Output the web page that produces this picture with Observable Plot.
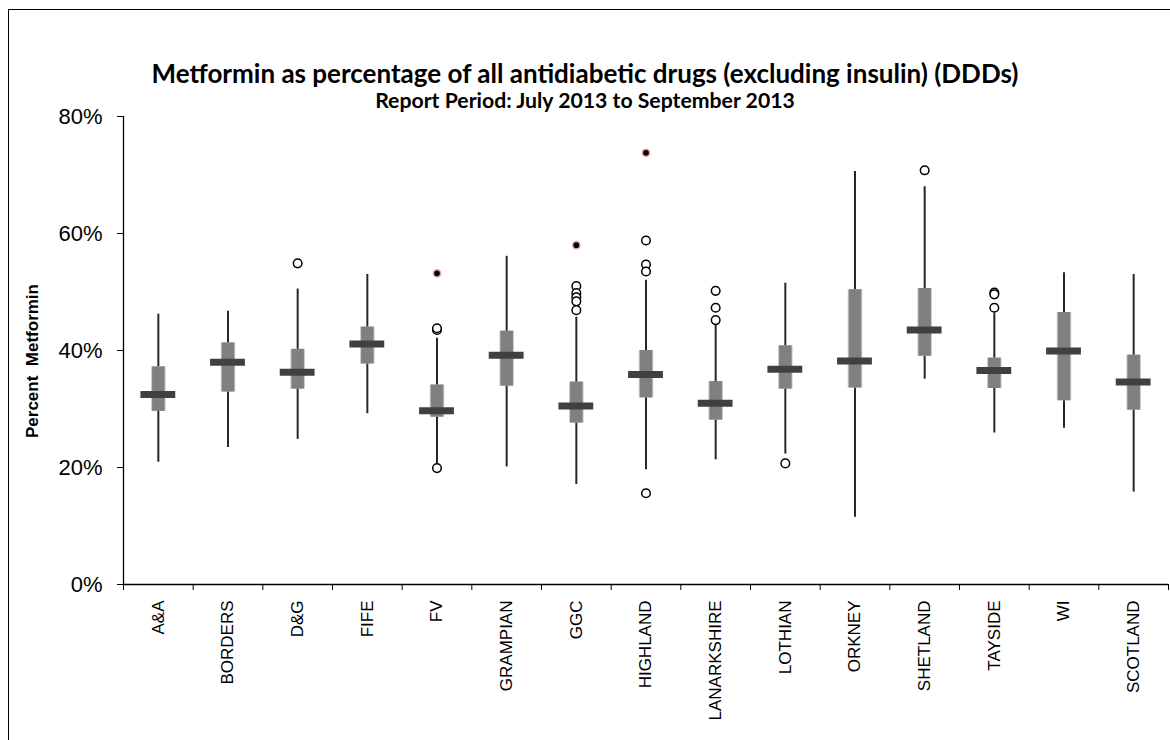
<!DOCTYPE html>
<html>
<head>
<meta charset="utf-8">
<script src="https://cdn.jsdelivr.net/npm/d3@7"></script>
<script src="https://cdn.jsdelivr.net/npm/@observablehq/plot@0.6"></script>
<style>
  html, body { margin: 0; padding: 0; background: #fff; }
  #wrap { position: relative; width: 1170px; height: 740px; overflow: hidden; background: #fff; }
  #frame { position: absolute; left: 8px; top: 9px; width: 1400px; height: 1000px; border: 1px solid #000; box-sizing: border-box; }
  .ttl { position: absolute; left: 0; width: 1170px; text-align: center; font-family: Lato, "Open Sans", Arial, sans-serif; font-weight: bold; color: #000; white-space: nowrap; line-height: 1; }
  #title span, #subtitle span { display: inline-block; }
  #ylabel { position: absolute; left: 33px; top: 361px; transform: translate(-50%, -50%) rotate(-90deg); font-family: "Liberation Sans", Arial, sans-serif; font-weight: bold; font-size: 17px; white-space: pre; color: #000; }
  #chart { position: absolute; left: 0; top: 100px; }
</style>
</head>
<body>
<div id="wrap">
  <div id="frame"></div>
  <div id="title" class="ttl"><span>Metformin as percentage of all antidiabetic drugs (excluding insulin) (DDDs)</span></div>
  <div id="subtitle" class="ttl"><span>Report Period: July 2013 to September 2013</span></div>
  <div id="ylabel">Percent  Metformin</div>
  <div id="chart"></div>
</div>
<script>
// ---- data (percent) ----
const regions     = ["A&A","BORDERS","D&G","FIFE","FV","GRAMPIAN","GGC","HIGHLAND","LANARKSHIRE","LOTHIAN","ORKNEY","SHETLAND","TAYSIDE","WI","SCOTLAND"];
const whiskerLow  = [20.9, 23.4, 24.8, 29.2, 20.7, 20.1, 17.1, 19.6, 21.3, 22.3, 11.5, 35.1, 25.9, 26.7, 15.8];
const quartile1   = [29.6, 32.9, 33.4, 37.7, 28.6, 33.9, 27.6, 31.9, 28.1, 33.4, 33.6, 39.0, 33.5, 31.4, 29.8];
const medians     = [32.5, 38.0, 36.3, 41.1, 29.7, 39.2, 30.5, 35.9, 31.0, 36.8, 38.2, 43.5, 36.6, 39.9, 34.6];
const quartile3   = [37.2, 41.3, 40.2, 44.0, 34.1, 43.3, 34.6, 40.0, 34.7, 40.8, 50.4, 50.6, 38.7, 46.5, 39.2];
const whiskerHigh = [46.2, 46.7, 50.5, 53.0, 42.1, 56.1, 45.7, 52.0, 44.4, 51.5, 70.6, 68.0, 46.4, 53.3, 53.0];
const outliers = [
  ["D&G", 54.9],
  ["FV", 43.5], ["FV", 43.8], ["FV", 19.9],
  ["GGC", 51.0], ["GGC", 49.8], ["GGC", 49.1], ["GGC", 48.4], ["GGC", 46.9],
  ["HIGHLAND", 58.8], ["HIGHLAND", 54.7], ["HIGHLAND", 53.5], ["HIGHLAND", 15.6],
  ["LANARKSHIRE", 50.2], ["LANARKSHIRE", 47.3], ["LANARKSHIRE", 45.2],
  ["LOTHIAN", 20.7],
  ["SHETLAND", 70.8],
  ["TAYSIDE", 49.9], ["TAYSIDE", 49.6], ["TAYSIDE", 47.3]
];
const flaggedOutliers = [["FV", 53.2], ["GGC", 58.0], ["HIGHLAND", 73.8]];
const yTicks = [0, 20, 40, 60, 80];

// ---- build tables ----
const pos = name => regions.indexOf(name) + 0.5;
const rows = regions.map((r, i) => ({
  x: i + 0.5, lo: whiskerLow[i], q1: quartile1[i], med: medians[i], q3: quartile3[i], hi: whiskerHigh[i]
}));
const outRows = outliers.map(([r, v]) => ({x: pos(r), y: v}));
const flagRows = flaggedOutliers.map(([r, v]) => ({x: pos(r), y: v}));

const chart = Plot.plot({
  width: 1170,
  height: 640,
  marginTop: 16,
  marginBottom: 156,
  marginLeft: 123,
  marginRight: 2,
  x: {type: "linear", domain: [0, regions.length]},
  y: {domain: [0, 80]},
  style: {fontFamily: "'Liberation Sans', Arial, sans-serif", background: "transparent", color: "#000", overflow: "visible"},
  marks: [
    Plot.axisY({ticks: yTicks, tickFormat: d => `${d}%`, tickSize: 6, tickPadding: 15, fontSize: 22, label: null}),
    Plot.axisX({ticks: d3.range(0, regions.length + 1), tickFormat: () => "", tickSize: 6, label: null}),
    Plot.axisX({ticks: d3.range(regions.length).map(i => i + 0.5), tickFormat: d => regions[Math.round(d - 0.5)],
                tickSize: 0, tickPadding: 16, tickRotate: -90, fontSize: 17, label: null}),
    Plot.ruleX([0], {stroke: "#000", strokeWidth: 1.3}),
    Plot.ruleY([0], {stroke: "#000", strokeWidth: 1.3}),
    Plot.ruleX(rows, {x: "x", y1: "lo", y2: "hi", stroke: "#262626", strokeWidth: 2}),
    Plot.ruleX(rows, {x: "x", y1: "q1", y2: "q3", stroke: "#c8c8c8", strokeWidth: 14.5}),
    Plot.ruleX(rows, {x: "x", y1: "q1", y2: "q3", stroke: "#808080", strokeWidth: 12.5}),
    Plot.ruleY(rows, {y: "med", x1: d => d.x - 0.25, x2: d => d.x + 0.25, stroke: "#404040", strokeWidth: 7}),
    Plot.dot(outRows, {x: "x", y: "y", r: 4.3, fill: "#fff", stroke: "#000", strokeWidth: 1.5}),
    Plot.dot(flagRows, {x: "x", y: "y", r: 3.6, fill: "#000", stroke: "#e3a3a0", strokeWidth: 1.5})
  ]
});
document.getElementById("chart").appendChild(chart);

// title sizing
function fit(id, target, size, centerY) {
  const el = document.getElementById(id);
  const span = el.querySelector("span");
  el.style.fontSize = size + "px";
  const w = span.getBoundingClientRect().width;
  const fs = size * target / w;
  el.style.fontSize = fs + "px";
  const h = span.getBoundingClientRect().height;
  el.style.top = (centerY - h / 2) + "px";
}
fit("title", 867, 26, 73);
fit("subtitle", 420, 18, 101);
</script>
</body>
</html>
